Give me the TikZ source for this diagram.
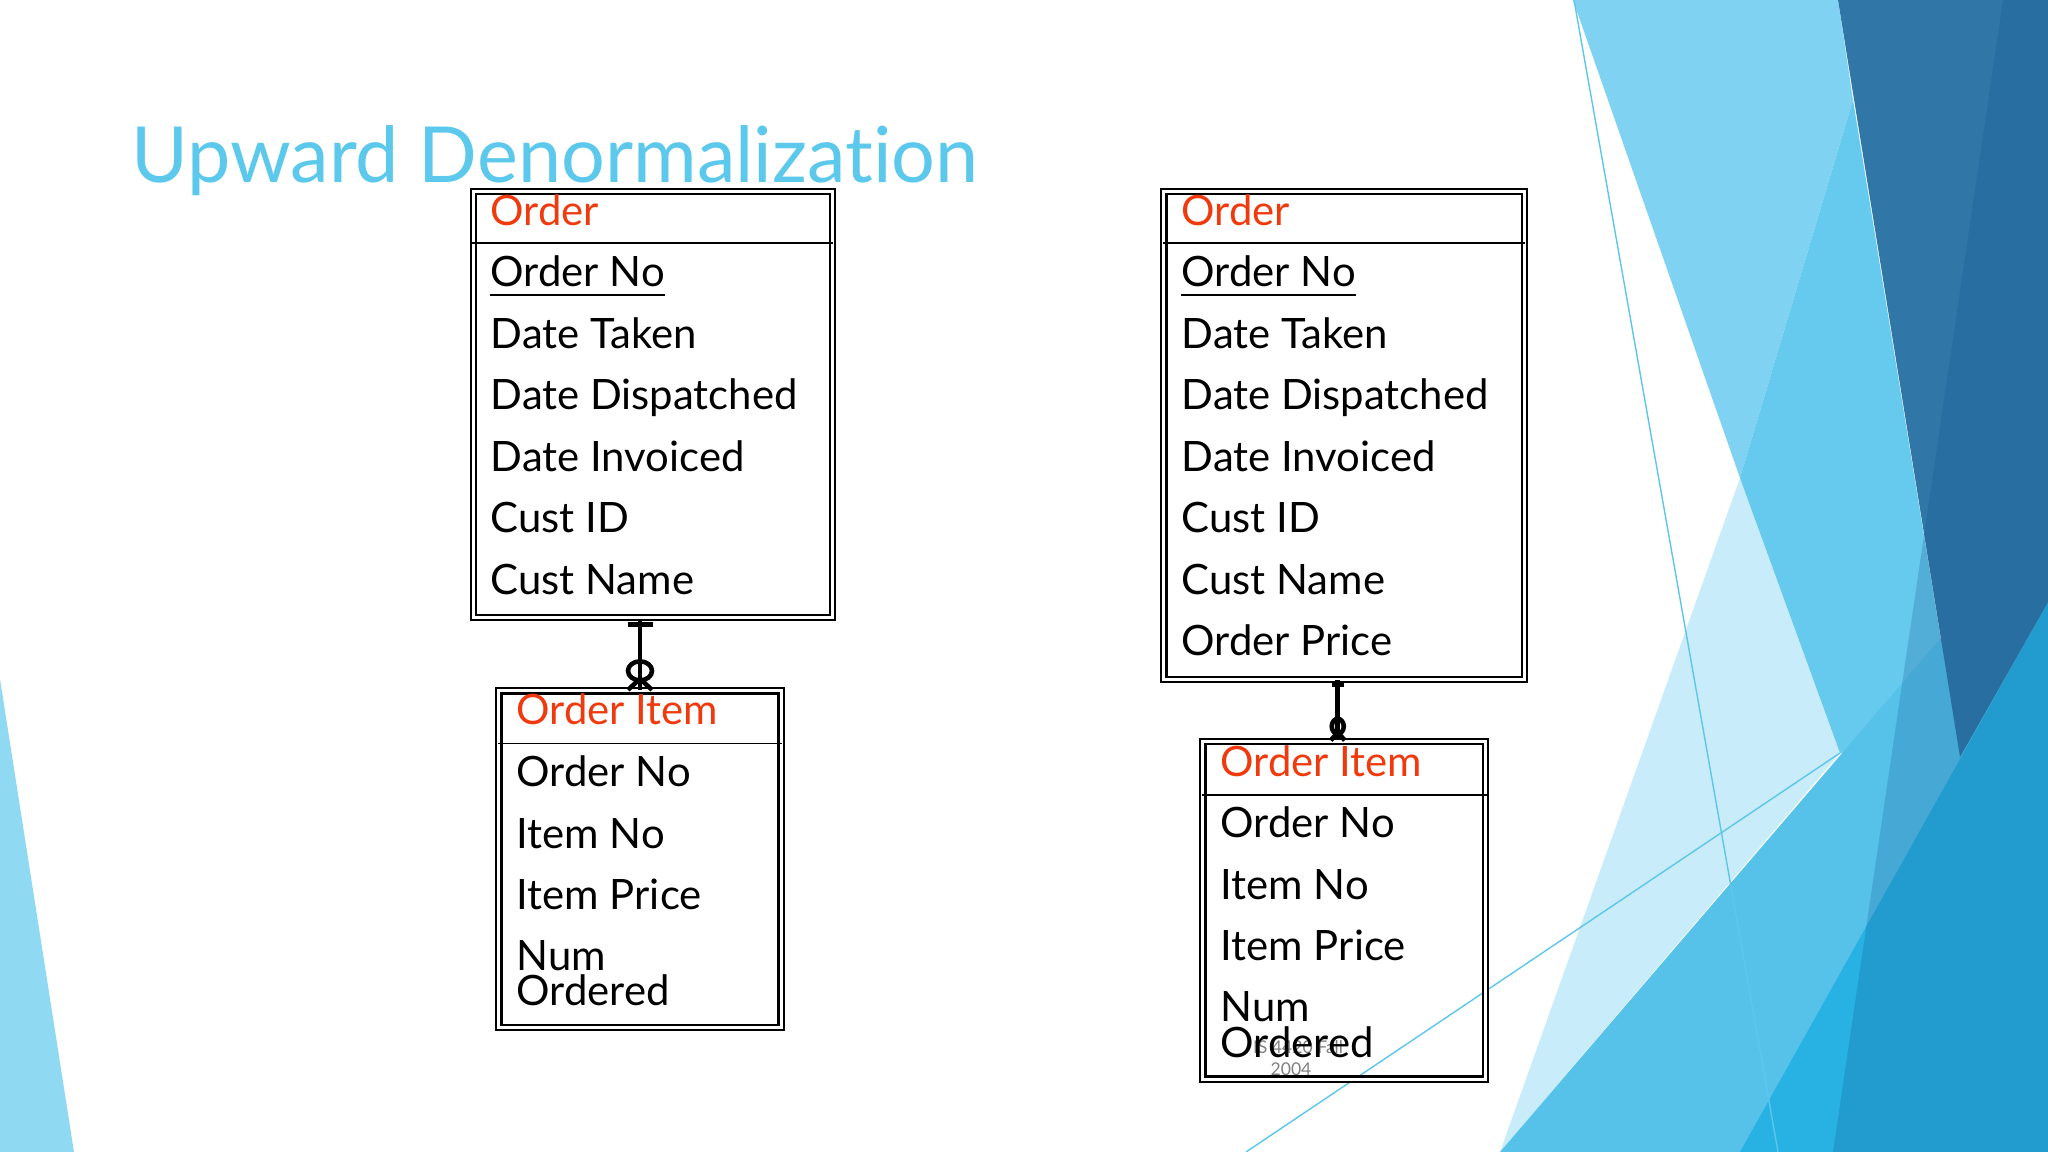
\documentclass[tikz,border=0pt]{standalone}
\usepackage{fontspec}
\setmainfont{Lato}[Ligatures=NoCommon]
\usepackage{xcolor}
\usetikzlibrary{calc,positioning}

\definecolor{ttlblue}{RGB}{91,200,236}
\definecolor{hdrred}{RGB}{240,58,14}
\definecolor{bgleft}{RGB}{143,217,242}
\definecolor{bgsky}{RGB}{128,210,242}
\definecolor{bgpale}{RGB}{200,236,249}
\definecolor{bgmid}{RGB}{102,201,238}
\definecolor{bgband}{RGB}{86,194,234}
\definecolor{bgbright}{RGB}{40,178,227}
\definecolor{bgdark}{RGB}{48,119,168}
\definecolor{bgdeep}{RGB}{14,79,134}
\definecolor{bgline}{RGB}{92,198,236}

\tikzset{
	entity/.style={draw, double, double distance=0.85pt, line width=0.6pt, inner sep=0pt},
	attr/.style={anchor=base west, inner sep=0pt, font=\fontsize{11.9}{12}\selectfont},
	hdr/.style={attr, text=hdrred},
	sepline/.style={line width=0.55pt},
	keyline/.style={line width=0.6pt},
	rel/.style={line width=1.3pt},
	ttl/.style={anchor=base west, inner sep=0pt, text=ttlblue, font=\fontsize{22}{24}\selectfont},
	foot/.style={anchor=base, inner sep=0pt, text=black!50, font=\fontsize{5}{6}\selectfont},
	bgthin/.style={bgline, line width=0.4pt}
}

\begin{document}
\begin{tikzpicture}[x=0.01cm, y=-0.01cm]
			\useasboundingbox (0,0) rectangle (2048,1152);

			% backdrop facets
			\fill[bgleft] (0,679) -- (74,1152) -- (0,1152) -- cycle;
			\fill[bgsky] (1573,0) -- (1838,0) -- (1853,100) -- (1740,478) -- cycle;
			\fill[bgpale] (1740,478) -- (1840,753) -- (1500,1152) -- cycle;
			\fill[bgmid] (1853,100) -- (1960,757) -- (1840,753) -- (1740,478) -- cycle;
			\fill[bgband] (1500,1152) -- (1940,639) -- (2048,560) -- (2048,1152) -- cycle;
			\fill[bgbright] (1740,1152) -- (2048,602) -- (2048,1152) -- cycle;
			\fill[bgdark] (1838,0) -- (2048,0) -- (2048,602) -- (1960,757) -- cycle;
			\fill[bgdeep, fill opacity=.22] (2003,0) -- (2048,0) -- (2048,1152) -- (1833,1152) -- cycle;
			\draw[bgthin] (1574,0) -- (1778,1152);
			\draw[bgthin] (1246,1152) -- (1840,753);

			\node[ttl] (title) at (131,183){Upward Denormalization};

			\node[foot] (foot1) at (1298,1053){IS 4420 Fall};
			\node[foot] (foot2) at (1291,1075){2004};

			% left: Order
			\node[entity, minimum width=3.585cm, minimum height=4.255cm] (lorder) at (652.75,404.75){};
				\draw[sepline] (lorder.west |- 0,243) -- (lorder.east |- 0,243);
				\node[hdr] (loh) at (490,226){Order};
				\node[attr] (lo1) at (490,287){Order No};
				\draw[keyline] ([yshift=-2.3pt]lo1.base west) -- ([yshift=-2.3pt]lo1.base east);
				\node[attr] (lo2) at (490,348.5){Date Taken};
				\node[attr] (lo3) at (490,410){Date Dispatched};
				\node[attr] (lo4) at (490,471.5){Date Invoiced};
				\node[attr] (lo5) at (490,533){Cust ID};
				\node[attr] (lo6) at (490,594.5){Cust Name};

			% left: Order Item
			\node[entity, minimum width=2.82cm, minimum height=3.365cm] (litem) at (640,859.25){};
				\draw[sepline] (litem.west |- 0,743.5) -- (litem.east |- 0,743.5);
				\node[hdr] (lih) at (516,725){Order Item};
				\node[attr] (li1) at (516,786.5){Order No};
				\node[attr] (li2) at (516,848){Item No};
				\node[attr] (li3) at (516,909.5){Item Price};
				\node[attr] (li4) at (516,970.5){Num};
				\node[attr] (li5) at (516,1005){Ordered};

			% right: Order
			\node[entity, minimum width=3.6cm, minimum height=4.87cm] (rorder) at (1344,435.5){};
				\draw[sepline] (rorder.west |- 0,243) -- (rorder.east |- 0,243);
				\node[hdr] (roh) at (1181,226){Order};
				\node[attr] (ro1) at (1181,287){Order No};
				\draw[keyline] ([yshift=-2.3pt]ro1.base west) -- ([yshift=-2.3pt]ro1.base east);
				\node[attr] (ro2) at (1181,348.5){Date Taken};
				\node[attr] (ro3) at (1181,410){Date Dispatched};
				\node[attr] (ro4) at (1181,471.5){Date Invoiced};
				\node[attr] (ro5) at (1181,533){Cust ID};
				\node[attr] (ro6) at (1181,594.5){Cust Name};
				\node[attr] (ro7) at (1181,655.5){Order Price};

			% right: Order Item
			\node[entity, minimum width=2.825cm, minimum height=3.375cm] (ritem) at (1344.25,910.25){};
				\draw[sepline] (ritem.west |- 0,795) -- (ritem.east |- 0,795);
				\node[hdr] (rih) at (1220,776){Order Item};
				\node[attr] (ri1) at (1220,837.5){Order No};
				\node[attr] (ri2) at (1220,899){Item No};
				\node[attr] (ri3) at (1220,960.5){Item Price};
				\node[attr] (ri4) at (1220,1021.5){Num};
				\node[attr] (ri5) at (1220,1057){Ordered};

			% one -- zero or many
			\draw[rel] (lorder.south -| litem.north) -- (litem.north);
			\draw[rel] (lorder.south -| litem.north) ++(-12.5,6) -- ++(25,0);
			\draw[rel] (litem.north) ++(0,-19) ellipse [x radius=0.12cm, y radius=0.095cm];
			\draw[rel] (litem.north) ++(-12,0) -- ++(12,-11) -- ++(12,11);

			\coordinate (rlink) at ([xshift=-0.065cm]ritem.north);
			\draw[rel] (rorder.south -| rlink) -- (rlink);
			\draw[rel] (rorder.south -| rlink) ++(-6,5) -- ++(12,0);
			\draw[rel] (rlink) ++(0,-14) ellipse [x radius=0.06cm, y radius=0.075cm];
			\draw[rel] (rlink) ++(-7,0) -- ++(7,-8) -- ++(7,8);

		\end{tikzpicture}
\end{document}
